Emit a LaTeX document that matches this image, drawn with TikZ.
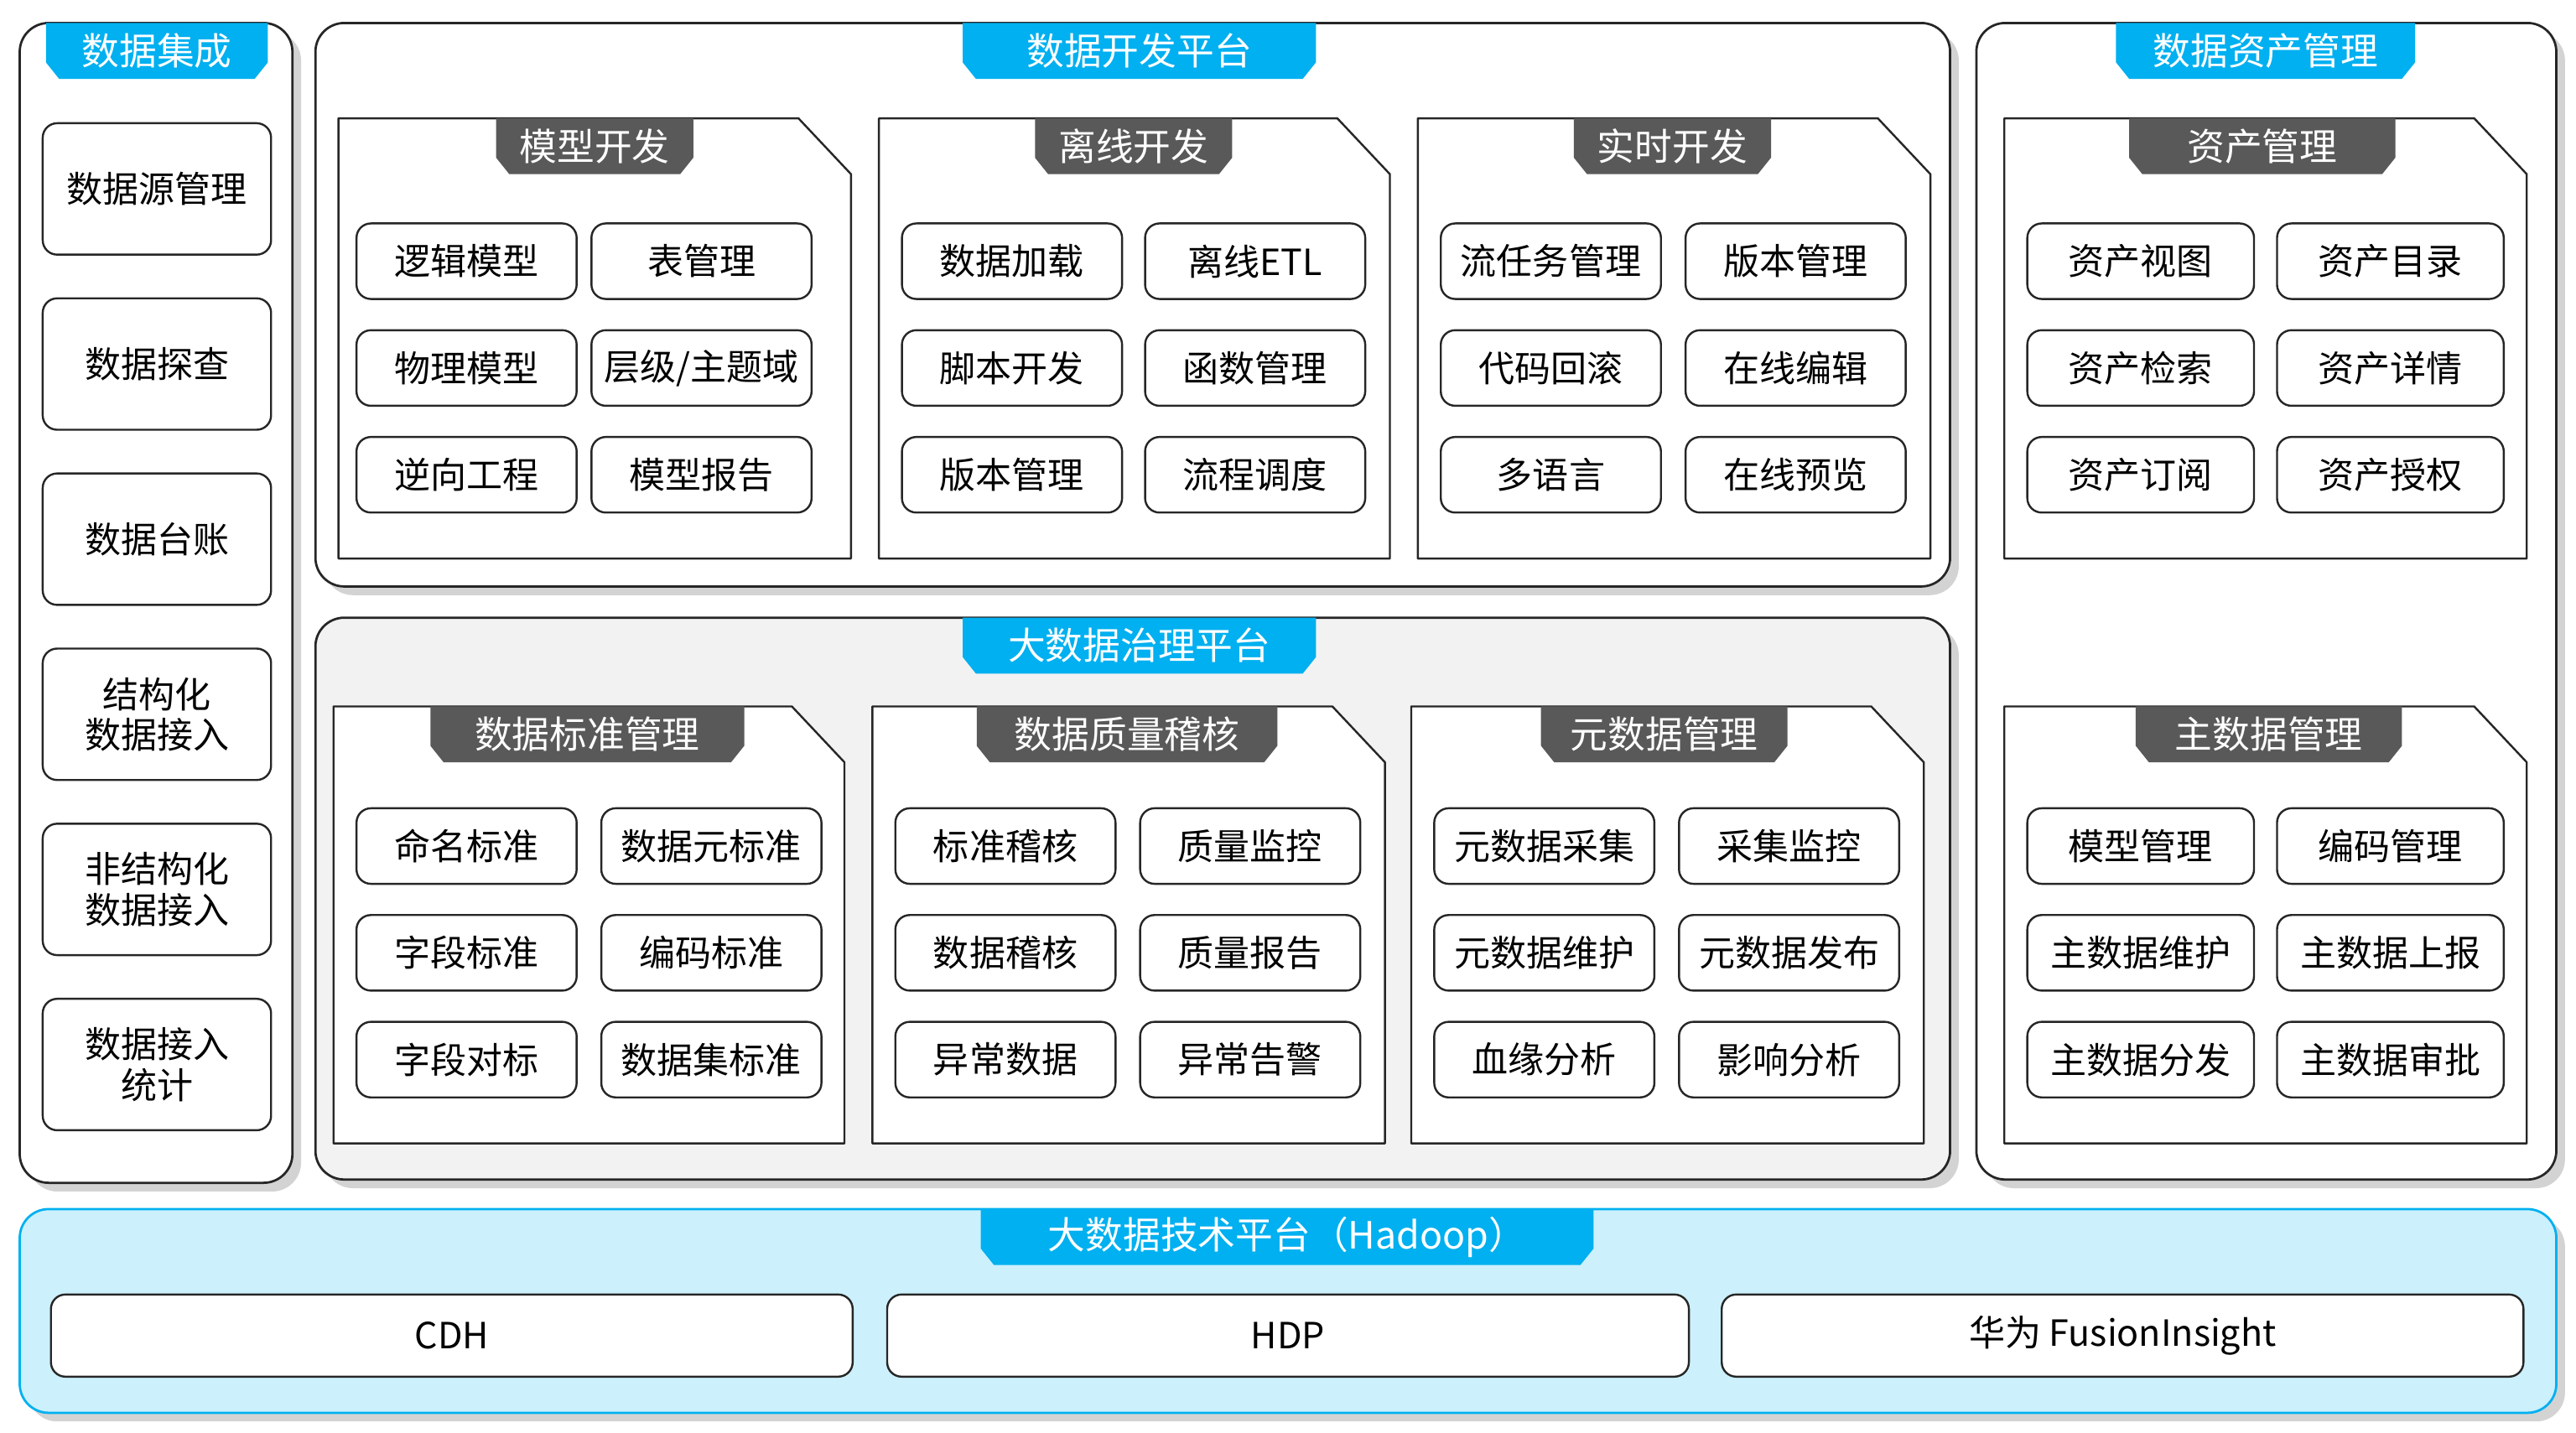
\documentclass[tikz,border=0pt]{standalone}
\usepackage{fontspec}
\setmainfont{Noto Sans CJK SC}
\usetikzlibrary{shadows}
\definecolor{skyblue}{HTML}{00B0F0}
\definecolor{paleblue}{HTML}{CCF0FC}
\definecolor{tabgray}{HTML}{595959}
\definecolor{lightgray}{HTML}{F2F2F2}
\tikzset{
  bigpanel/.style={draw=black!85,line width=0.8pt,rounded corners=10pt,fill=white,drop shadow={shadow xshift=3pt,shadow yshift=-3pt,opacity=0.35}},
  subpanel/.style={draw=black!85,line width=0.7pt,fill=white},
  cellbox/.style={draw=black!85,line width=0.7pt,rounded corners=5pt,fill=white},
  celltext/.style={font=\fontsize{12.5}{14}\selectfont,align=center,text=black},
  tabtext/.style={font=\fontsize{13}{15}\selectfont,text=white},
}
% tab: centre x, top y, width, colour, name, text
\newcommand{\tabbox}[6]{%
  \fill[#4] (#1-#3/2,#2) -- (#1+#3/2,#2) -- (#1+#3/2,#2+24) -- (#1+#3/2-8,#2+34) -- (#1-#3/2+8,#2+34) -- (#1-#3/2,#2+24) -- cycle;
  \node[tabtext] (#5) at (#1,#2+17) {#6};}
% sub panel with cut corner: L, T, R, B
\newcommand{\cutpanel}[4]{%
  \draw[subpanel] (#1,#2) -- (#3-32,#2) -- (#3,#2+34) -- (#3,#4) -- (#1,#4) -- cycle;}
% grid of cells: L, top row, col1 offset, width, col2 offset, prefix, list
\newcommand{\cellgrid}[7]{%
  \foreach \t [count=\i from 0] in {#7} {
    \pgfmathtruncatemacro\row{int(\i/2)}
    \pgfmathtruncatemacro\col{mod(\i,2)}
    \pgfmathsetmacro\xa{#1+(\col==0?#3:#5)}
    \pgfmathsetmacro\ya{#2+65*\row}
    \draw[cellbox] (\xa,\ya) rectangle node[celltext] (#6-\i) {\t} (\xa+#4,\ya+46);
  }}

\begin{document}
\begin{tikzpicture}[x=0.02cm,y=-0.02cm,line join=round]
\useasboundingbox (0,0) rectangle (1568,872);

% data integration
\draw[bigpanel] (12,14) rectangle (178,720);
\tabbox{95.5}{14}{135}{skyblue}{integ}{数据集成}
\foreach \t [count=\i from 0] in {数据源管理,数据探查,数据台账,结构化\\数据接入,非结构化\\数据接入,数据接入\\统计} {
  \pgfmathsetmacro\ya{75+106.6*\i}
  \draw[cellbox] (26,\ya) rectangle node[celltext] (integ-\i) {\t} (165,\ya+80);
}

% development platform
\draw[bigpanel] (192,14) rectangle (1187,357);
\tabbox{693.5}{14}{215}{skyblue}{dev}{数据开发平台}
\cutpanel{206}{72}{518}{340}
\tabbox{362}{72}{120}{tabgray}{model}{模型开发}
\cellgrid{206}{136}{11}{134}{154}{model}{逻辑模型,表管理,物理模型,层级/主题域,逆向工程,模型报告}
\cutpanel{535}{72}{846}{340}
\tabbox{690}{72}{120}{tabgray}{offline}{离线开发}
\cellgrid{535}{136}{14}{134}{162}{offline}{数据加载,离线ETL,脚本开发,函数管理,版本管理,流程调度}
\cutpanel{863}{72}{1175}{340}
\tabbox{1018}{72}{120}{tabgray}{realtime}{实时开发}
\cellgrid{863}{136}{14}{134}{163}{realtime}{流任务管理,版本管理,代码回滚,在线编辑,多语言,在线预览}

% governance platform
\draw[bigpanel,fill=lightgray] (192,376) rectangle (1187,718);
\tabbox{693.5}{376}{215}{skyblue}{gov}{大数据治理平台}
\cutpanel{203}{430}{514}{696}
\tabbox{357.5}{430}{191}{tabgray}{std}{数据标准管理}
\cellgrid{203}{492}{14}{134}{163}{std}{命名标准,数据元标准,字段标准,编码标准,字段对标,数据集标准}
\cutpanel{531}{430}{843}{696}
\tabbox{686}{430}{183}{tabgray}{quality}{数据质量稽核}
\cellgrid{531}{492}{14}{134}{163}{quality}{标准稽核,质量监控,数据稽核,质量报告,异常数据,异常告警}
\cutpanel{859}{430}{1171}{696}
\tabbox{1013}{430}{150}{tabgray}{meta}{元数据管理}
\cellgrid{859}{492}{14}{134}{163}{meta}{元数据采集,采集监控,元数据维护,元数据发布,血缘分析,影响分析}

% asset management
\draw[bigpanel] (1203,14) rectangle (1556,718);
\tabbox{1379}{14}{182}{skyblue}{asset}{数据资产管理}
\cutpanel{1220}{72}{1538}{340}
\tabbox{1377}{72}{162}{tabgray}{assetm}{资产管理}
\cellgrid{1220}{136}{14}{138}{166}{assetm}{资产视图,资产目录,资产检索,资产详情,资产订阅,资产授权}
\cutpanel{1220}{430}{1538}{696}
\tabbox{1381}{430}{162}{tabgray}{master}{主数据管理}
\cellgrid{1220}{492}{14}{138}{166}{master}{模型管理,编码管理,主数据维护,主数据上报,主数据分发,主数据审批}

% hadoop platform
\draw[bigpanel,draw=skyblue,fill=paleblue] (12,736) rectangle (1556,860);
\tabbox{783.5}{736}{373}{skyblue}{hadoop}{大数据技术平台（Hadoop）}
\foreach \t/\xa [count=\i from 0] in {CDH/31,HDP/540,华为 FusionInsight/1048} {
  \draw[cellbox] (\xa,788) rectangle node[celltext] (hadoop-\i) {\t} (\xa+488,838);
}
\end{tikzpicture}
\end{document}
